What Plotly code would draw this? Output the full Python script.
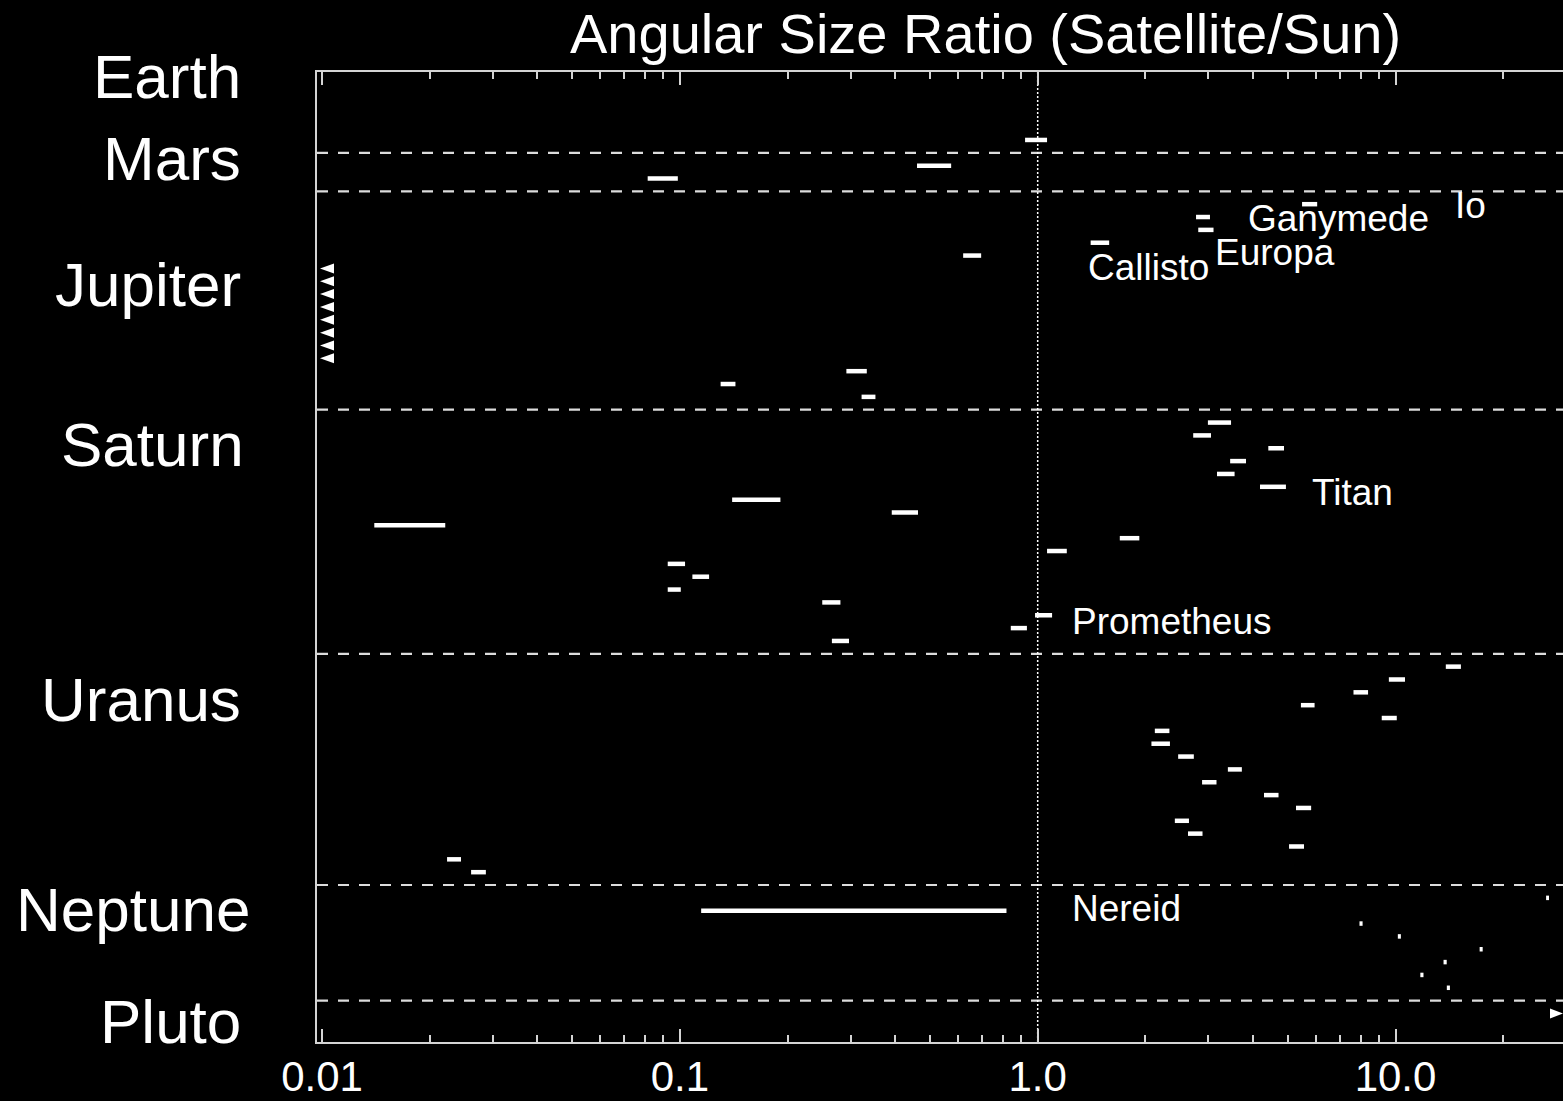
import numpy as np
import plotly.graph_objects as go

# ---------------- data (ratio = satellite angular size / Sun angular size) ----------------
planets = ["Earth", "Mars", "Jupiter", "Saturn", "Uranus", "Neptune", "Pluto"]

earth_names = ["Moon"]
earth_lo = [0.922]
earth_hi = [1.062]

mars_names = ["Phobos", "Deimos"]
mars_lo = [0.460, 0.0813]
mars_hi = [0.573, 0.0987]

jupiter_names = ["Io", "Europa", "Ganymede", "Callisto", "Amalthea", "Himalia", "Elara",
                 "Pasiphae", "Sinope", "Lysithea", "Carme", "Ananke", "Leda",
                 "Thebe", "Metis", "Adrastea"]
jupiter_lo = [5.48, 2.77, 2.81, 1.406, 0.619, None, None, None, None, None, None, None, None,
              0.292, 0.130, 0.322]
jupiter_hi = [6.04, 3.03, 3.10, 1.584, 0.695, None, None, None, None, None, None, None, None,
              0.333, 0.143, 0.352]

saturn_names = ["Mimas", "Enceladus", "Tethys", "Dione", "Rhea", "Titan", "Hyperion",
                "Iapetus", "Phoebe", "Janus", "Epimetheus", "Helene", "Telesto",
                "Calypso", "Atlas", "Prometheus", "Pandora", "Pan"]
saturn_lo = [2.99, 2.72, 4.41, 3.45, 3.17, 4.18, 0.140, 0.391, 0.0140, 1.696, 1.062,
             0.0925, 0.1084, 0.0925, 0.250, 0.983, 0.841, 0.266]
saturn_hi = [3.47, 3.05, 4.88, 3.82, 3.55, 4.94, 0.191, 0.463, 0.0221, 1.923, 1.206,
             0.1034, 0.1207, 0.1006, 0.281, 1.097, 0.933, 0.297]

uranus_names = ["Titania", "Oberon", "Ariel", "Umbriel", "Miranda", "Cordelia", "Ophelia",
                "Bianca", "Cressida", "Desdemona", "Juliet", "Portia", "Rosalind",
                "Belinda", "Puck", "Caliban", "Sycorax"]
uranus_lo = [13.82, 9.58, 7.63, 5.44, 9.15, 2.125, 2.079, 2.469, 3.40, 2.88, 4.29, 5.27,
             2.417, 2.63, 5.04, 0.02236, 0.0261]
uranus_hi = [15.23, 10.63, 8.38, 5.94, 10.08, 2.334, 2.342, 2.731, 3.72, 3.16, 4.71, 5.81,
             2.647, 2.888, 5.55, 0.02446, 0.0287]

neptune_names = ["Triton", "Nereid", "Naiad", "Thalassa", "Despina", "Galatea",
                 "Larissa", "Proteus"]
neptune_lo = [26.35, 0.1147, 7.93, 10.15, 17.18, 13.62, 11.73, 13.91]
neptune_hi = [26.85, 0.818, 8.09, 10.35, 17.52, 13.90, 11.97, 14.19]

pluto_names = ["Charon"]
pluto_lo = [None]
pluto_hi = [None]

below_range = ["Himalia", "Elara", "Pasiphae", "Sinope", "Lysithea", "Carme", "Ananke", "Leda"]
above_range = ["Charon"]

labelled = ["Io", "Ganymede", "Europa", "Callisto", "Titan", "Prometheus", "Nereid"]

tick_vals = [0.01, 0.1, 1.0, 10.0]
tick_text = ["0.01", "0.1", "1.0", "10.0"]

# ---------------- layout constants (pixels / styles) ----------------
W, H = 1563, 1101
M_L, M_R, M_T, M_B = 317, 0, 72, 59
X_RANGE = [-2.014, 1.468]
Y_RANGE = [70.22, -5.29]
FONT = "Liberation Sans, Arial, Helvetica, sans-serif"
AX_COL = "#d4d4d4"
PLOT_H = H - M_T - M_B

# label anchor: (which end of the segment, xshift px, yshift px)
label_style = {
    "Io": ("hi", 136, -1),
    "Ganymede": ("hi", 32, 11),
    "Europa": ("hi", 3, -35),
    "Callisto": ("lo", -5, -25),
    "Titan": ("hi", 24, -6),
    "Prometheus": ("hi", 18, -6),
    "Nereid": ("hi", 64, 2),
}
# planet label placement: (right edge px, vertical centre px)
planet_label_px = {
    "Earth": (243, 77), "Mars": (243, 158), "Jupiter": (243, 284.5),
    "Saturn": (246, 444.5), "Uranus": (243, 699), "Neptune": (252, 909),
    "Pluto": (243, 1021.6),
}

# ---------------- build rows ----------------
groups = [
    (earth_names, earth_lo, earth_hi),
    (mars_names, mars_lo, mars_hi),
    (jupiter_names, jupiter_lo, jupiter_hi),
    (saturn_names, saturn_lo, saturn_hi),
    (uranus_names, uranus_lo, uranus_hi),
    (neptune_names, neptune_lo, neptune_hi),
    (pluto_names, pluto_lo, pluto_hi),
]
rows, lo_of, hi_of, sep_rows = {}, {}, {}, []
r = 0
for gi, (names, lo, hi) in enumerate(groups):
    if gi > 0:
        sep_rows.append(r)
        r += 1
    for n, a, b in zip(names, lo, hi):
        rows[n] = r
        lo_of[n] = a
        hi_of[n] = b
        r += 1

seg_x, seg_y = [], []
for n in rows:
    if lo_of[n] is None:
        continue
    seg_x += [lo_of[n], hi_of[n], None]
    seg_y += [rows[n], rows[n], None]

fig = go.Figure()
fig.add_trace(go.Scatter(x=seg_x, y=seg_y, mode="lines",
                         line=dict(color="white", width=4.5), hoverinfo="skip",
                         showlegend=False))

shapes = []
# planet separators
for sr in sep_rows:
    shapes.append(dict(type="line", xref="paper", yref="y", x0=0, x1=1, y0=sr, y1=sr,
                       line=dict(color="#dcdcdc", width=2.2, dash="11px,10px"), layer="below"))
# ratio = 1 line
shapes.append(dict(type="line", xref="x", yref="paper", x0=1.0, x1=1.0, y0=0, y1=1,
                   line=dict(color="white", width=1.5, dash="2px,2px"), layer="below"))
# off-scale markers
xmin_val = 10 ** X_RANGE[0]
xmax_val = 10 ** X_RANGE[1]
for n in below_range:
    shapes.append(dict(type="path", xref="x", yref="y", xsizemode="pixel", ysizemode="pixel",
                       xanchor=xmin_val, yanchor=rows[n], path="M 3 0 L 17 5 L 17 -5 Z",
                       fillcolor="white", line=dict(width=0)))
for n in above_range:
    shapes.append(dict(type="path", xref="x", yref="y", xsizemode="pixel", ysizemode="pixel",
                       xanchor=xmax_val, yanchor=rows[n], path="M 0 0 L -13 5 L -13 -5 Z",
                       fillcolor="white", line=dict(width=0)))

annotations = []
for n in labelled:
    end, dx, dy = label_style[n]
    v = hi_of[n] if end == "hi" else lo_of[n]
    annotations.append(dict(x=np.log10(v), y=rows[n], xref="x", yref="y", text=n,
                            showarrow=False, xanchor="left", yanchor="middle",
                            xshift=dx, yshift=dy,
                            font=dict(family=FONT, size=37, color="white")))
plot_w = W - M_L - M_R
for p in planets:
    px, py = planet_label_px[p]
    annotations.append(dict(x=(px - M_L) / plot_w, y=1 - (py - M_T) / PLOT_H,
                            xref="paper", yref="paper", text=p, showarrow=False,
                            xanchor="right", yanchor="middle",
                            font=dict(family=FONT, size=62, color="white")))
annotations.append(dict(x=(986 - M_L) / plot_w, y=1, xref="paper", yref="paper",
                        text="Angular Size Ratio (Satellite/Sun)", showarrow=False,
                        xanchor="center", yanchor="middle", yshift=38.7,
                        font=dict(family=FONT, size=56, color="white")))

minor_vals = [m * 10.0 ** e for e in range(-2, 2) for m in range(2, 10)]

fig.update_layout(
    template="none",
    width=W, height=H,
    margin=dict(l=M_L, r=M_R, t=M_T, b=M_B, pad=0, autoexpand=False),
    paper_bgcolor="black", plot_bgcolor="black",
    shapes=shapes, annotations=annotations, showlegend=False,
    xaxis=dict(type="log", range=X_RANGE, tickmode="array", tickvals=tick_vals,
               ticktext=tick_text, ticks="inside", ticklen=13, tickwidth=2,
               tickcolor=AX_COL, showline=True, linecolor=AX_COL, linewidth=2,
               mirror="allticks", showgrid=False, zeroline=False, automargin=False,
               ticklabelstandoff=-3,
               tickfont=dict(family=FONT, size=42, color="white"),
               minor=dict(ticks="inside", ticklen=7, tickwidth=2, tickcolor=AX_COL,
                          tickmode="array", tickvals=minor_vals, showgrid=False)),
    yaxis=dict(range=Y_RANGE, showline=True, linecolor=AX_COL, linewidth=2, mirror=False,
               showticklabels=False, ticks="", showgrid=False, zeroline=False,
               automargin=False),
)

fig.write_html("out.html", config={"displayModeBar": False},
               post_script="document.body.style.margin='0';"
                           "document.body.style.background='black';"
                           "document.body.style.overflow='hidden';")
